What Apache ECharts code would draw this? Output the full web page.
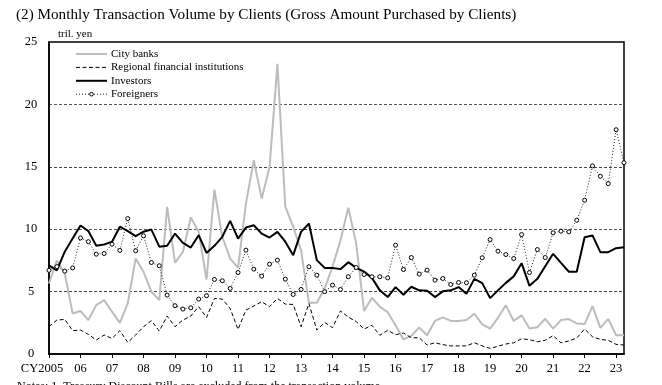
<!DOCTYPE html>
<html>
<head>
<meta charset="utf-8">
<script src="https://cdn.jsdelivr.net/npm/echarts@6/dist/echarts.min.js"></script>
<style>
html,body{margin:0;padding:0;background:#fff;}
#c{width:662px;height:385px;}
</style>
</head>
<body>
<div id="c"></div>
<script>
// Quarterly observations, 2005Q1 .. 2023Q2
var years = [2005,2006,2007,2008,2009,2010,2011,2012,2013,2014,2015,2016,2017,2018,2019,2020,2021,2022,2023];
var yearLabels = ['CY2005','06','07','08','09','10','11','12','13','14','15','16','17','18','19','20','21','22','23'];
var quartersInLastYear = 2;
var seriesNames = ['City banks','Regional financial institutions','Investors','Foreigners'];

var cityBanks = [5.65,7.5,6.45,3.25,3.44,2.72,3.92,4.32,3.39,2.5,4.05,7.65,6.59,4.99,4.32,
  11.79,7.31,8.19,10.93,9.79,5.97,13.17,9.39,7.65,6.9,12.05,15.52,12.45,14.99,23.25,
  11.8,10.2,8.3,4.1,4.1,5.25,7.0,9.1,11.73,8.85,3.45,4.5,3.8,3.35,2.3,
  1.17,1.45,2.12,1.5,2.65,2.93,2.65,2.65,2.72,3.22,2.37,2.03,2.9,3.9,
  2.65,3.1,2.05,2.15,2.82,2.03,2.72,2.8,2.45,2.4,3.83,2.1,2.82,1.5,1.5];

var regional = [2.19,2.72,2.77,1.87,1.92,1.57,1.12,1.52,1.25,1.87,0.93,1.52,2.19,2.67,1.84,
  3.04,2.19,2.72,3.04,3.79,2.93,4.45,4.4,3.65,1.97,3.52,3.84,4.19,3.79,4.45,
  4.0,3.97,2.19,4.05,1.92,2.53,2.11,3.45,2.95,2.6,2.0,2.3,1.5,1.9,1.55,
  1.68,1.3,1.3,0.72,0.9,0.75,0.65,0.65,0.65,0.9,0.65,0.45,0.62,0.8,
  0.9,1.22,1.15,0.98,1.1,1.47,0.9,1.05,1.28,2.0,1.38,1.17,1.1,0.77,0.72];

var investors = [7.1,6.7,8.2,9.25,10.3,9.85,8.67,8.77,9.0,10.2,9.85,9.44,9.8,9.97,8.6,
  8.67,9.65,8.9,8.53,9.52,8.1,8.67,9.39,10.67,9.25,10.13,10.32,9.65,9.33,9.79,
  9.0,7.92,9.79,10.45,7.52,6.9,6.9,6.8,7.36,6.9,6.6,6.1,5.1,4.56,5.36,
  4.75,5.39,5.1,5.07,4.56,5.02,5.1,5.36,4.82,6.02,5.68,4.48,5.1,5.7,
  6.22,7.28,5.46,6.02,7.03,8.03,7.3,6.59,6.59,9.36,9.5,8.16,8.16,8.48,8.56];

var foreigners = [6.7,7.0,6.64,6.9,9.3,9.0,8.0,8.05,8.8,8.3,10.85,8.27,9.47,7.33,7.07,
  4.72,3.87,3.6,3.7,4.4,4.67,5.97,5.87,5.25,6.53,8.32,6.8,6.24,7.2,7.52,
  6.0,4.77,5.17,6.99,6.32,4.99,5.52,5.17,6.19,6.93,6.37,6.19,6.19,6.1,8.72,
  6.77,7.73,6.4,6.72,5.92,6.05,5.57,5.73,5.71,6.32,7.71,9.17,8.24,7.97,
  7.65,9.57,6.53,8.37,7.73,9.71,9.84,9.79,10.72,12.32,15.07,14.24,13.65,17.97,15.33];

var yTicks = [0,5,10,15,20,25];

var categories = [];
years.forEach(function(y, yi){
  var nq = (yi === years.length - 1) ? quartersInLastYear : 4;
  for (var q = 1; q <= nq; q++) categories.push(y + 'Q' + q);
});

var serif = '"Liberation Serif","DejaVu Serif",serif';
var chart = echarts.init(document.getElementById('c'), null, {renderer:'canvas'});
var isYearStart = function(idx){ return idx % 4 === 0; };

var lineStyles = [
  {stroke:'#bcbcbc', lineWidth:2},
  {stroke:'#000', lineWidth:1, lineDash:[4,2.5]},
  {stroke:'#000', lineWidth:2},
  {stroke:'#222', lineWidth:1, lineDash:[1,2]}
];
var legendGraphics = [];
seriesNames.forEach(function(n, i){
  var y = 54 + i * 13.4;
  legendGraphics.push({type:'line', shape:{x1:76, y1:y, x2:107, y2:y}, style: lineStyles[i], z: 10});
  if (i === 3) legendGraphics.push({type:'circle', shape:{cx:91.5, cy:y, r:1.8}, style:{fill:'#fff', stroke:'#000', lineWidth:1}, z: 11});
  legendGraphics.push({type:'text', x:111, y:y, style:{text:n, font:'11px ' + serif, fill:'#000', verticalAlign:'middle'}, z: 10});
});

chart.setOption({
  animation: false,
  backgroundColor: '#fff',
  textStyle: {fontFamily: serif, color: '#000'},
  title: [{
    text: '(2) Monthly Transaction Volume by Clients (Gross Amount Purchased by Clients)',
    left: 11, top: 3,
    textStyle: {fontFamily: serif, fontSize: 15.2, fontWeight: 'normal', color: '#000'}
  }],
  graphic: [
    {type:'text', left: 58, top: 29, style:{text:'tril. yen', font:'11px ' + serif, fill:'#000'}},
    {type:'text', left: 17, top: 381, style:{text:'Notes: 1. Treasury Discount Bills are excluded from the transaction volume.', font:'12px ' + serif, fill:'#000'}}
  ].concat(legendGraphics),
  grid: {left: 49, right: 38, top: 42, bottom: 31, show: true, borderColor: '#000', borderWidth: 1.5, backgroundColor: 'transparent'},
  xAxis: {
    type: 'category', data: categories, boundaryGap: false,
    axisLine: {show: true, lineStyle: {color: '#000', width: 1.5}},
    axisTick: {show: true, interval: isYearStart, length: 4, inside: false, lineStyle: {color: '#000', width: 1}},
    axisLabel: {
      interval: isYearStart, margin: 8, fontFamily: serif, fontSize: 12.5, color: '#000',
      formatter: function(v, idx){
        var lab = yearLabels[Math.floor(idx/4)];
        return idx === 0 ? '{a|' + lab + '}' : lab;
      },
      rich: {a: {fontFamily: serif, fontSize: 12.5, color: '#000', padding: [0, 14, 0, 0]}}
    },
    splitLine: {show: false}
  },
  yAxis: {
    type: 'value', min: yTicks[0], max: yTicks[yTicks.length-1], interval: 5,
    axisLine: {show: true, lineStyle: {color: '#000', width: 1.5}},
    axisTick: {show: false},
    axisLabel: {fontFamily: serif, fontSize: 12.5, color: '#000', align: 'center', margin: 18},
    splitLine: {show: true, lineStyle: {color: ['transparent','#444','#555','#444','#555','transparent'], type: [3, 2], width: 1}}
  },
  series: [
    {name: seriesNames[0], type: 'line', data: cityBanks, symbol: 'none',
      lineStyle: {color: '#bcbcbc', width: 2}, itemStyle: {color: '#bcbcbc'}, z: 2},
    {name: seriesNames[1], type: 'line', data: regional, symbol: 'none',
      lineStyle: {color: '#000', width: 1, type: [4, 2.5]}, itemStyle: {color: '#000'}, z: 3},
    {name: seriesNames[2], type: 'line', data: investors, symbol: 'none',
      lineStyle: {color: '#000', width: 2}, itemStyle: {color: '#000'}, z: 4},
    {name: seriesNames[3], type: 'line', data: foreigners, symbol: 'circle', symbolSize: 4, showSymbol: true,
      lineStyle: {color: '#222', width: 1, type: [1, 2]},
      itemStyle: {color: '#fff', borderColor: '#000', borderWidth: 1}, z: 5}
  ]
});
</script>
</body>
</html>
